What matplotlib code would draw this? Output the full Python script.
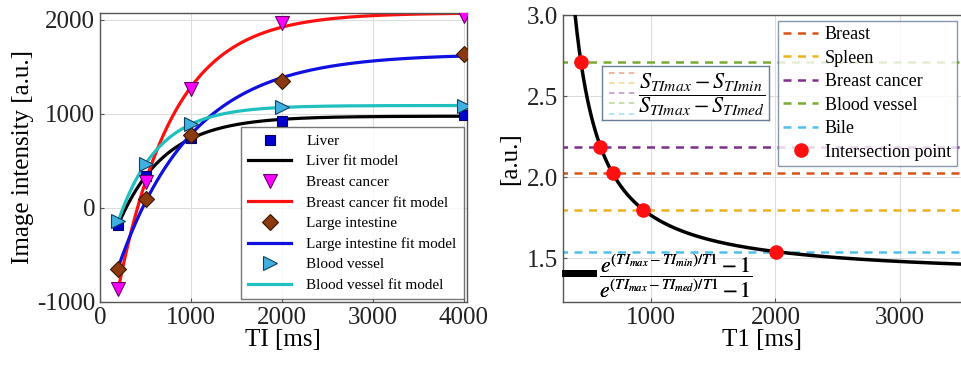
import numpy as np
import matplotlib
matplotlib.use("Agg")
import matplotlib.pyplot as plt
from matplotlib.lines import Line2D

plt.rcParams['font.family'] = ['Liberation Serif', 'DejaVu Serif']
plt.rcParams['mathtext.fontset'] = 'stix'
plt.rcParams['axes.unicode_minus'] = False

# ---------------- data: left panel ----------------
TI = [200, 500, 1000, 2000, 4000]
liver = [-180, 340, 740, 925, 990]
breast_cancer = [-860, 280, 1270, 1970, 2040]
large_intestine = [-650, 100, 780, 1350, 1640]
blood_vessel = [-140, 470, 890, 1070, 1090]

series_names = ["Liver", "Breast cancer", "Large intestine", "Blood vessel"]

# ---------------- data: right panel ----------------
TI_MAX = 1600
TI_MED = 500
TI_MIN = 88
level_names = ["Breast", "Spleen", "Breast cancer", "Blood vessel", "Bile"]
level_values = [2.023, 1.80, 2.189, 2.713, 1.54]
level_colors = ["#D95319", "#EDB120", "#7E2F8E", "#77AC30", "#4DBEEE"]


def fit_recovery(t, s):
    t = np.asarray(t, float)
    s = np.asarray(s, float)
    best = None
    for T1 in np.linspace(100, 3000, 2901):
        X = np.column_stack([np.ones_like(t), np.exp(-t / T1)])
        coef, res, *_ = np.linalg.lstsq(X, s, rcond=None)
        err = np.sum((X @ coef - s) ** 2)
        if best is None or err < best[0]:
            best = (err, T1, coef)
    _, T1, coef = best
    return lambda x: coef[0] + coef[1] * np.exp(-np.asarray(x) / T1)


fig = plt.figure(figsize=(9.62, 3.70), dpi=100)
ax1 = fig.add_axes([0.104, 0.184, 0.381, 0.781])
ax2 = fig.add_axes([0.585, 0.184, 0.415, 0.775])

spine_col = "#555555"
for ax in (ax1, ax2):
    for sp in ax.spines.values():
        sp.set_color(spine_col)
        sp.set_linewidth(1.0)
    ax.grid(True, color="#dddddd", lw=0.8)
    ax.set_axisbelow(True)
    ax.tick_params(direction="in", length=3, colors="#222222", labelsize=18,
                   color=spine_col)

# ---------------- left panel ----------------
xs = np.linspace(TI[0], TI[-1], 400)
styles = [
    (liver, dict(marker="s", color="#0000CC", mec="#000066", ms=6.5), "black"),
    (breast_cancer, dict(marker="v", color="#FF00FF", mec="#660066", ms=10), "#FF1010"),
    (large_intestine, dict(marker="D", color="#8B3A0F", mec="#3A1500", ms=8), "#1010E0"),
    (blood_vessel, dict(marker=">", color="#40B0E0", mec="#104060", ms=10), "#20C0C0"),
]
for name, (vals, mk, lc) in zip(series_names, styles):
    f = fit_recovery(TI, vals)
    ax1.plot(TI, vals, linestyle="none", label=name, zorder=3, mew=0.8, **mk)
    ax1.plot(xs, f(xs), color=lc, lw=2.3, label=name + " fit model", zorder=2)

ax1.set_xlim(0, 4030)
ax1.set_ylim(-1000, 2075)
ax1.set_xticks([0, 1000, 2000, 3000, 4000])
ax1.set_yticks([-1000, 0, 1000, 2000])
ax1.set_xlabel("TI [ms]", fontsize=18, labelpad=0)
ax1.set_ylabel("Image intensity [a.u.]", fontsize=18, labelpad=2)
leg1 = ax1.legend(loc="lower right", fontsize=11, frameon=True, fancybox=False,
                  borderaxespad=0.2, handlelength=2.8, labelspacing=0.45,
                  borderpad=0.45, handletextpad=1.0)
leg1.get_frame().set_edgecolor("#555555")
leg1.get_frame().set_linewidth(1.0)

# ---------------- right panel ----------------
T1 = np.linspace(150, 3600, 3000)
def ratio(t):
    return (np.exp((TI_MAX - TI_MIN) / t) - 1) / (np.exp((TI_MAX - TI_MED) / t) - 1)
curve = ratio(T1)
curve_line, = ax2.plot(T1, curve, color="black", lw=2.5, zorder=3)

level_handles = []
for nm, v, c in zip(level_names, level_values, level_colors):
    h, = ax2.plot([T1[0], T1[-1]], [v, v], color=c, lw=1.8,
                  linestyle=(0, (3.2, 2.6)), label=nm, zorder=2)
    level_handles.append(h)

ix = np.interp(level_values, curve[::-1], T1[::-1])
pts, = ax2.plot(ix, level_values, "o", color="#FF1010", mec="#FF1010", ms=9.5,
                linestyle="none", label="Intersection point", zorder=4)

ax2.set_xlim(290, 3500)
ax2.set_ylim(1.23, 3.0)
ax2.set_xticks([1000, 2000, 3000])
ax2.set_yticks([1.5, 2.0, 2.5, 3.0])
ax2.set_yticklabels(["1.5", "2.0", "2.5", "3.0"])
ax2.set_xlabel("T1 [ms]", fontsize=18, labelpad=0)
ax2.set_ylabel("[a.u.]", fontsize=18, labelpad=4)

leg2 = ax2.legend(handles=level_handles + [pts], loc="upper right", fontsize=13,
                  frameon=True, fancybox=False, borderaxespad=0.3,
                  handlelength=1.9, labelspacing=0.36, borderpad=0.3,
                  handletextpad=0.4)
leg2.get_frame().set_edgecolor("#6a7f95")
leg2.get_frame().set_linewidth(1.0)
ax2.add_artist(leg2)

# formula legend for the curve (bottom left)
leg3 = ax2.legend(handles=[Line2D([], [], color="black", lw=5)],
                  labels=[r"$\dfrac{e^{(TI_{max}-TI_{min})/T1}-1}{e^{(TI_{max}-TI_{med})/T1}-1}$"],
                  loc="lower left", fontsize=15.5, frameon=False, borderaxespad=0.0,
                  handlelength=1.3, handletextpad=0.3, borderpad=0.1)
ax2.add_artist(leg3)

# inset box with fraction of signals
box = ax2.inset_axes([0.098, 0.634, 0.418, 0.188])
box.set_xlim(0, 1)
box.set_ylim(0, 1)
box.set_xticks([])
box.set_yticks([])
box.set_facecolor("white")
for sp in box.spines.values():
    sp.set_color("#6a7f95")
    sp.set_linewidth(1.0)
for i, c in enumerate(level_colors):
    y = 0.88 - i * 0.19
    box.plot([0.04, 0.2], [y, y], color=c, lw=1.3, alpha=0.45,
             linestyle=(0, (3, 2.5)))
box.text(0.6, 0.48, r"$\dfrac{S_{TImax}-S_{TImin}}{S_{TImax}-S_{TImed}}$",
         fontsize=16, ha="center", va="center")

fig.savefig("out.png", dpi=100)
